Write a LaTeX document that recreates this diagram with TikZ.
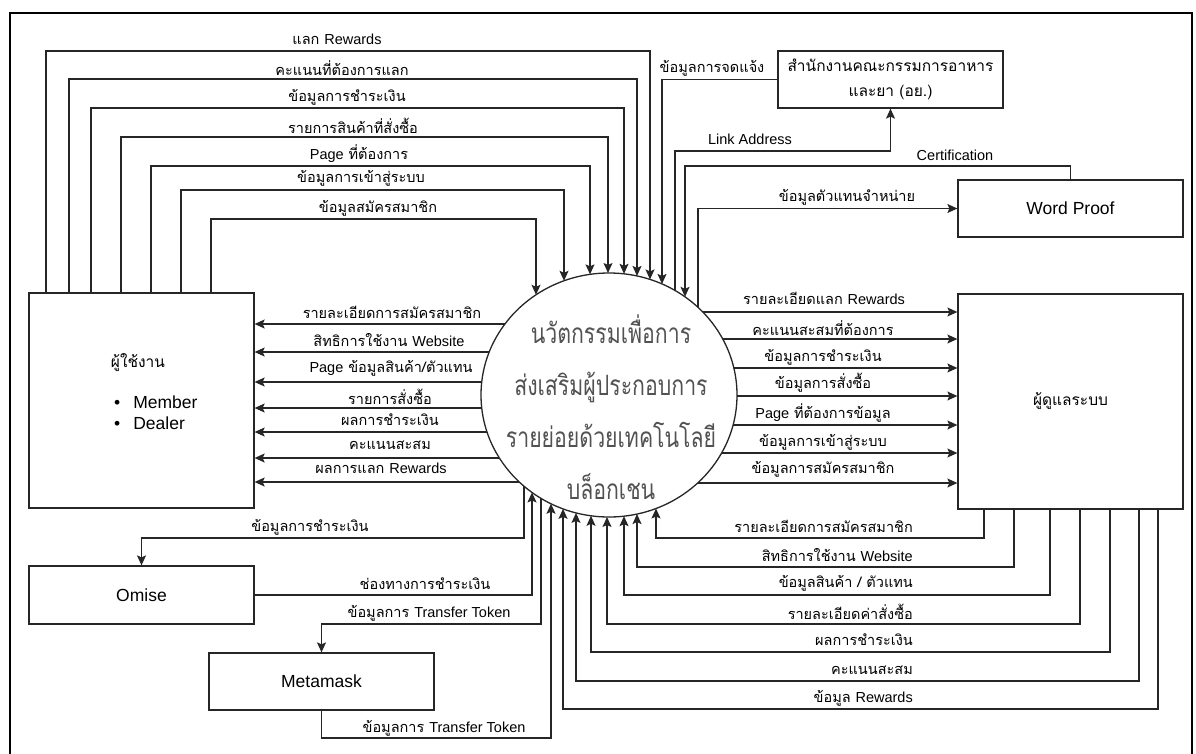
\documentclass[tikz,border=0pt]{standalone}
\usepackage{fontspec}
\setmainfont{Liberation Sans}
\newfontfamily\thai[Script=Thai]{Loma}
\newfontfamily\thaicirc[Script=Thai,FakeStretch=0.76]{Loma}
\newfontfamily\lat{Liberation Sans}
\usetikzlibrary{arrows.meta,shapes.geometric}
\newcommand\En[1]{{\lat\fontsize{14.5}{16}\selectfont #1}}
\begin{document}
\begin{tikzpicture}[x=1pt,y=-1pt,
  box/.style={draw=black!85,line width=1.3pt,minimum width=225pt,inner sep=0pt,fill=white},
  arr/.style={draw=black!85,line width=1.2pt,-{Stealth[length=10pt,width=9pt,inset=2pt]}},
  lbl/.style={font=\thai\fontsize{14.5}{16}\selectfont,inner sep=0pt},
  lbllat/.style={font=\lat\fontsize{14.5}{16}\selectfont,inner sep=0pt},
  ntxt/.style={font=\lat\fontsize{17.5}{20}\selectfont},
  nthai/.style={font=\thai\fontsize{15.5}{25}\selectfont,align=center},
  ]
\useasboundingbox (0,0) rectangle (1196,753);
\fill[white] (0,0) rectangle (1196,753);
\draw[line width=2.4pt] (10,775) -- (10,13) -- (1192,13) -- (1192,775);

% nodes
\node[box,minimum height=215pt] (u) at (141.5,400.5) {};
\node[box,minimum height=215pt,nthai] (a) at (1070.5,401.5) {ผู้ดูแลระบบ};
\node[box,minimum height=57pt,nthai] (y) at (890.5,79.5) {สำนักงานคณะกรรมการอาหาร\\และยา (อย.)};
\node[box,minimum height=57pt,ntxt] (w) at (1070.5,208.5) {Word Proof};
\node[box,minimum height=58pt,ntxt] (o) at (141.5,595) {Omise};
\node[box,minimum height=57pt,ntxt] (m) at (321.5,681.5) {Metamask};
\node[ellipse,draw=black!85,line width=1.3pt,minimum width=256pt,minimum height=244pt,inner sep=0pt,fill=white] (c) at (609,395) {};
\node[font=\thaicirc\fontsize{28}{52}\selectfont,text=black!68,align=center] (ct) at (611,407)
  {นวัตกรรมเพื่อการ\\ส่งเสริมผู้ประกอบการ\\รายย่อยด้วยเทคโนโลยี\\บล็อกเชน};
\node[nthai] (ut) at (138,363) {ผู้ใช้งาน};
\node[ntxt,anchor=west,inner sep=0pt] (um) at (114,402) {\textbullet\hspace{13pt}Member};
\node[ntxt,anchor=west,inner sep=0pt] (ud) at (114,423) {\textbullet\hspace{13pt}Dealer};

% circle boundary points
\foreach \x in {536,564,590,608,624,637,650,662,675,685,698}
  \coordinate (t\x) at (\x,{395-122*sqrt(1-((\x-609)/128)*((\x-609)/128))});
\foreach \x in {524,532,541,551,563,576,591,607,624,637,656}
  \coordinate (b\x) at (\x,{395+122*sqrt(1-((\x-609)/128)*((\x-609)/128))});
\foreach \y in {324,352,382,408,432,458,482}
  \coordinate (l\y) at ({609-128*sqrt(1-((\y-395)/122)*((\y-395)/122))},\y);
\foreach \y in {312,339,368,396,425,453,483}
  \coordinate (r\y) at ({609+128*sqrt(1-((\y-395)/122)*((\y-395)/122))},\y);

% user -> system
\draw[arr] (u.north -| 46,0) |- (650,51) -- (t650);
\draw[arr] (u.north -| 69,0) |- (637,79) -- (t637);
\draw[arr] (u.north -| 91,0) |- (624,108) -- (t624);
\draw[arr] (u.north -| 121,0) |- (608,137) -- (t608);
\draw[arr] (u.north -| 151,0) |- (590,166) -- (t590);
\draw[arr] (u.north -| 181,0) |- (564,190) -- (t564);
\draw[arr] (u.north -| 211,0) |- (536,219) -- (t536);
% system -> user
\foreach \y in {324,352,382,408,432,458,482}
  \draw[arr] (l\y) -- (u.east |- 0,\y);
% system -> admin
\foreach \y in {312,339,368,396,425,453,483}
  \draw[arr] (r\y) -- (a.west |- 0,\y);
% admin -> system
\draw[arr] (a.south -| 984,0) |- (656,538) -- (b656);
\draw[arr] (a.south -| 1014,0) |- (637,567) -- (b637);
\draw[arr] (a.south -| 1050,0) |- (624,595) -- (b624);
\draw[arr] (a.south -| 1080,0) |- (607,624) -- (b607);
\draw[arr] (a.south -| 1110,0) |- (591,652) -- (b591);
\draw[arr] (a.south -| 1139,0) |- (576,681) -- (b576);
\draw[arr] (a.south -| 1158,0) |- (563,709) -- (b563);
% omise / metamask
\draw[arr] (b524) |- (141.5,538) -- (o.north);
\draw[arr] (o.east) -| (b532);
\draw[arr] (b541) |- (321.5,624) -- (m.north);
\draw[arr] (m.south) |- (551,738) -- (b551);
% FDA / Word Proof
\draw[arr] (y.west) -| (t662);
\draw[arr] (t675) |- (890.5,151) -- (y.south);
\draw[arr] (w.north) |- (685,166) -- (t685);
\draw[arr] (t698) |- (w.west);

% labels top-left
\node[lbl] (q1) at (337,39) {แลก \En{Rewards}};
\node[lbl] (q2) at (342,68) {คะแนนที่ต้องการแลก};
\node[lbl] (q3) at (347,97) {ข้อมูลการชำระเงิน};
\node[lbl] (q4) at (353,126) {รายการสินค้าที่สั่งซื้อ};
\node[lbl] (q5) at (359,154) {\En{Page} ที่ต้องการ};
\node[lbl] (q6) at (361,178) {ข้อมูลการเข้าสู่ระบบ};
\node[lbl] (q7) at (378,208) {ข้อมูลสมัครสมาชิก};
% labels left
\node[lbl] (p1) at (392,312) {รายละเอียดการสมัครสมาชิก};
\node[lbl] (p2) at (389,340) {สิทธิการใช้งาน \En{Website}};
\node[lbl] (p3) at (391,368) {\En{Page} ข้อมูลสินค้า/ตัวแทน};
\node[lbl] (p4) at (390,397) {รายการสั่งซื้อ};
\node[lbl] (p5) at (390,420) {ผลการชำระเงิน};
\node[lbl] (p6) at (390,445) {คะแนนสะสม};
\node[lbl] (p7) at (381,468) {ผลการแลก \En{Rewards}};
% labels right
\node[lbl] (s1) at (824,298) {รายละเอียดแลก \En{Rewards}};
\node[lbl] (s2) at (823,328) {คะแนนสะสมที่ต้องการ};
\node[lbl] (s3) at (823,357) {ข้อมูลการชำระเงิน};
\node[lbl] (s4) at (823,383) {ข้อมูลการสั่งซื้อ};
\node[lbl] (s5) at (823,413) {\En{Page} ที่ต้องการข้อมูล};
\node[lbl] (s6) at (823,442) {ข้อมูลการเข้าสู่ระบบ};
\node[lbl] (s7) at (823,469) {ข้อมูลการสมัครสมาชิก};
% labels bottom-right
\node[lbl,anchor=east] (d1) at (913,526) {รายละเอียดการสมัครสมาชิก};
\node[lbl,anchor=east] (d2) at (913,555) {สิทธิการใช้งาน \En{Website}};
\node[lbl,anchor=east] (d3) at (913,583) {ข้อมูลสินค้า / ตัวแทน};
\node[lbl,anchor=east] (d4) at (913,612) {รายละเอียดค่าสั่งซื้อ};
\node[lbl,anchor=east] (d5) at (913,640) {ผลการชำระเงิน};
\node[lbl,anchor=east] (d6) at (913,670) {คะแนนสะสม};
\node[lbl,anchor=east] (d7) at (913,698) {ข้อมูล \En{Rewards}};
% labels bottom-left
\node[lbl] (e1) at (310,527) {ข้อมูลการชำระเงิน};
\node[lbl] (e2) at (425,584) {ช่องทางการชำระเงิน};
\node[lbl] (e3) at (429,613) {ข้อมูลการ \En{Transfer Token}};
\node[lbl] (e4) at (444,728) {ข้อมูลการ \En{Transfer Token}};
% labels top-right
\node[lbl] (f1) at (712,68) {ข้อมูลการจดแจ้ง};
\node[lbllat] (f2) at (750,139) {Link Address};
\node[lbllat] (f3) at (955,155) {Certification};
\node[lbl] (f4) at (847,197) {ข้อมูลตัวแทนจำหน่าย};
\end{tikzpicture}
\end{document}
